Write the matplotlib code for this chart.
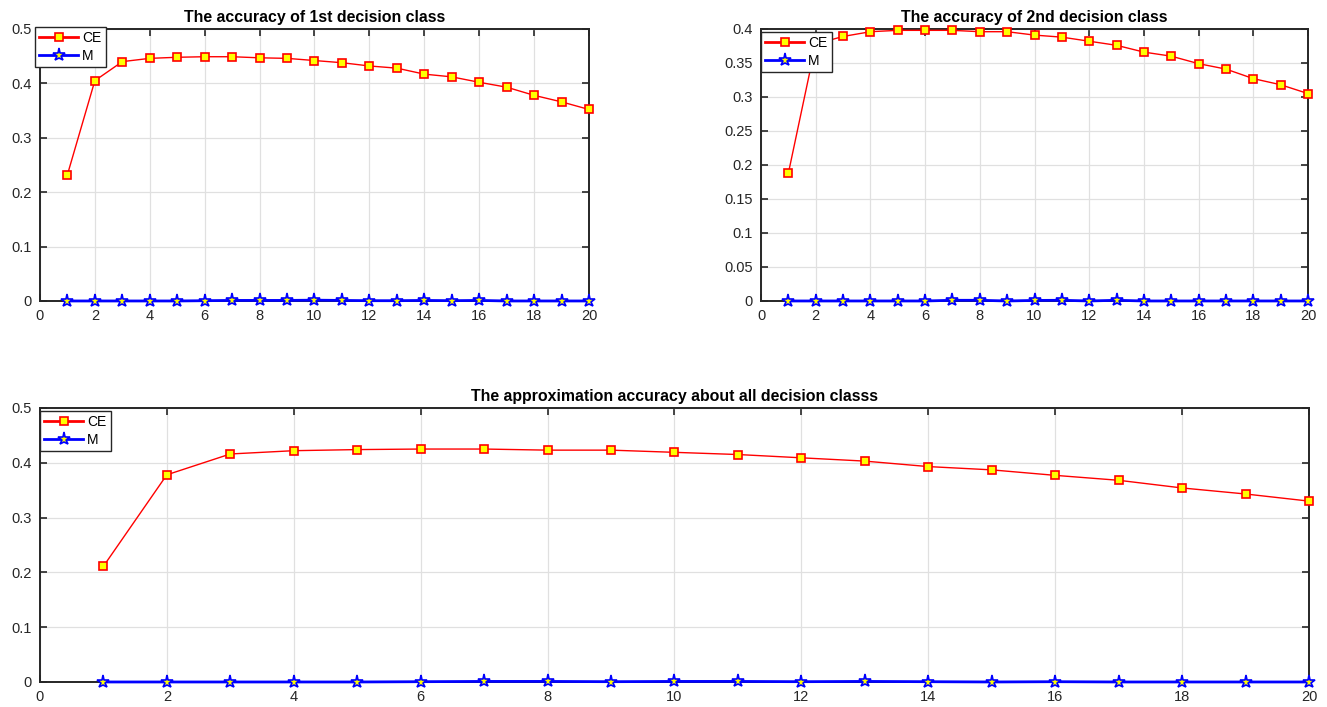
import matplotlib
matplotlib.use("Agg")
import matplotlib.pyplot as plt

plt.rcParams['font.family'] = ['Liberation Sans', 'DejaVu Sans']

x = list(range(1, 21))
ce1 = [0.232, 0.405, 0.440, 0.446, 0.448, 0.449, 0.449, 0.447, 0.446, 0.442,
       0.438, 0.432, 0.428, 0.417, 0.412, 0.402, 0.393, 0.378, 0.366, 0.352]
m1 = [0, 0, 0, 0, 0, 0.0005, 0.001, 0.001, 0.001, 0.0015,
      0.001, 0.0005, 0.0005, 0.001, 0.0005, 0.001, 0, 0, 0, 0]
ce2 = [0.188, 0.378, 0.389, 0.396, 0.398, 0.398, 0.398, 0.396, 0.396, 0.391,
       0.388, 0.382, 0.376, 0.366, 0.360, 0.349, 0.341, 0.327, 0.318, 0.305]
m2 = [0, 0, 0, 0, 0, 0, 0.001, 0.001, 0, 0.0008,
      0.001, 0, 0.001, 0, 0, 0, 0, 0, 0, 0]
ce3 = [0.211, 0.378, 0.416, 0.422, 0.424, 0.425, 0.425, 0.423, 0.423, 0.419,
       0.415, 0.409, 0.403, 0.393, 0.387, 0.377, 0.368, 0.354, 0.343, 0.330]
m3 = [0, 0, 0, 0, 0, 0.0005, 0.001, 0.001, 0.0005, 0.001,
      0.001, 0.0005, 0.001, 0.0005, 0, 0.0005, 0, 0, 0, 0]

titles = ["The accuracy of 1st decision class",
          "The accuracy of 2nd decision class",
          "The approximation accuracy about all decision classs"]
xticks = list(range(0, 21, 2))
yticks1 = [0, 0.1, 0.2, 0.3, 0.4, 0.5]
yticks2 = [0, 0.05, 0.1, 0.15, 0.2, 0.25, 0.3, 0.35, 0.4]
ytl1 = ['0', '0.1', '0.2', '0.3', '0.4', '0.5']
ytl2 = ['0', '0.05', '0.1', '0.15', '0.2', '0.25', '0.3', '0.35', '0.4']

fig = plt.figure(figsize=(13.27, 7.07), dpi=100)
positions = [[0.0301, 0.5743, 0.4138, 0.3847],
             [0.5735, 0.5743, 0.4122, 0.3847],
             [0.0301, 0.0354, 0.9563, 0.3876]]
data = [(ce1, m1, yticks1, ytl1, 0.5), (ce2, m2, yticks2, ytl2, 0.4), (ce3, m3, yticks1, ytl1, 0.5)]
legend_anchor = [(-0.009, 1.008), (0.0, 0.99), (0.0, 0.99)]

for pos, (ce, m, yt, ytl, ymax), title, anc in zip(positions, data, titles, legend_anchor):
    ax = fig.add_axes(pos)
    ax.plot(x, ce, color='red', lw=1.0, marker='s', ms=5.5, mfc='yellow', mec='red', mew=1.2,
            label='CE', clip_on=False, zorder=4)
    ax.plot(x, m, color='blue', lw=2.0, marker='*', ms=9.5, mfc='yellow', mec='blue', mew=1.2,
            label='M', clip_on=False, zorder=4)
    ax.set_xlim(0, 20)
    ax.set_ylim(0, ymax)
    ax.set_xticks(xticks)
    ax.set_yticks(yt)
    ax.set_yticklabels(ytl)
    ax.grid(True, color='#e0e0e0', lw=0.9)
    ax.set_axisbelow(True)
    ax.tick_params(direction='in', top=True, right=True, length=5, width=1.2,
                   labelsize=10.5, colors='#262626', pad=6)
    for s in ax.spines.values():
        s.set_linewidth(1.4)
        s.set_color('#262626')
        s.set_zorder(3)
    ax.set_title(title, fontsize=11.4, fontweight='bold', pad=5)
    leg = ax.legend(loc='upper left', bbox_to_anchor=anc, fancybox=False, framealpha=1,
                    edgecolor='#262626', fontsize=10, borderpad=0.3, handlelength=2.8,
                    borderaxespad=0, labelspacing=0.3, handletextpad=0.3)
    leg.get_frame().set_linewidth(1.0)
    leg.set_zorder(6)
    for h in leg.get_lines():
        h.set_linewidth(2.0)

fig.savefig('out.png', dpi=100)
